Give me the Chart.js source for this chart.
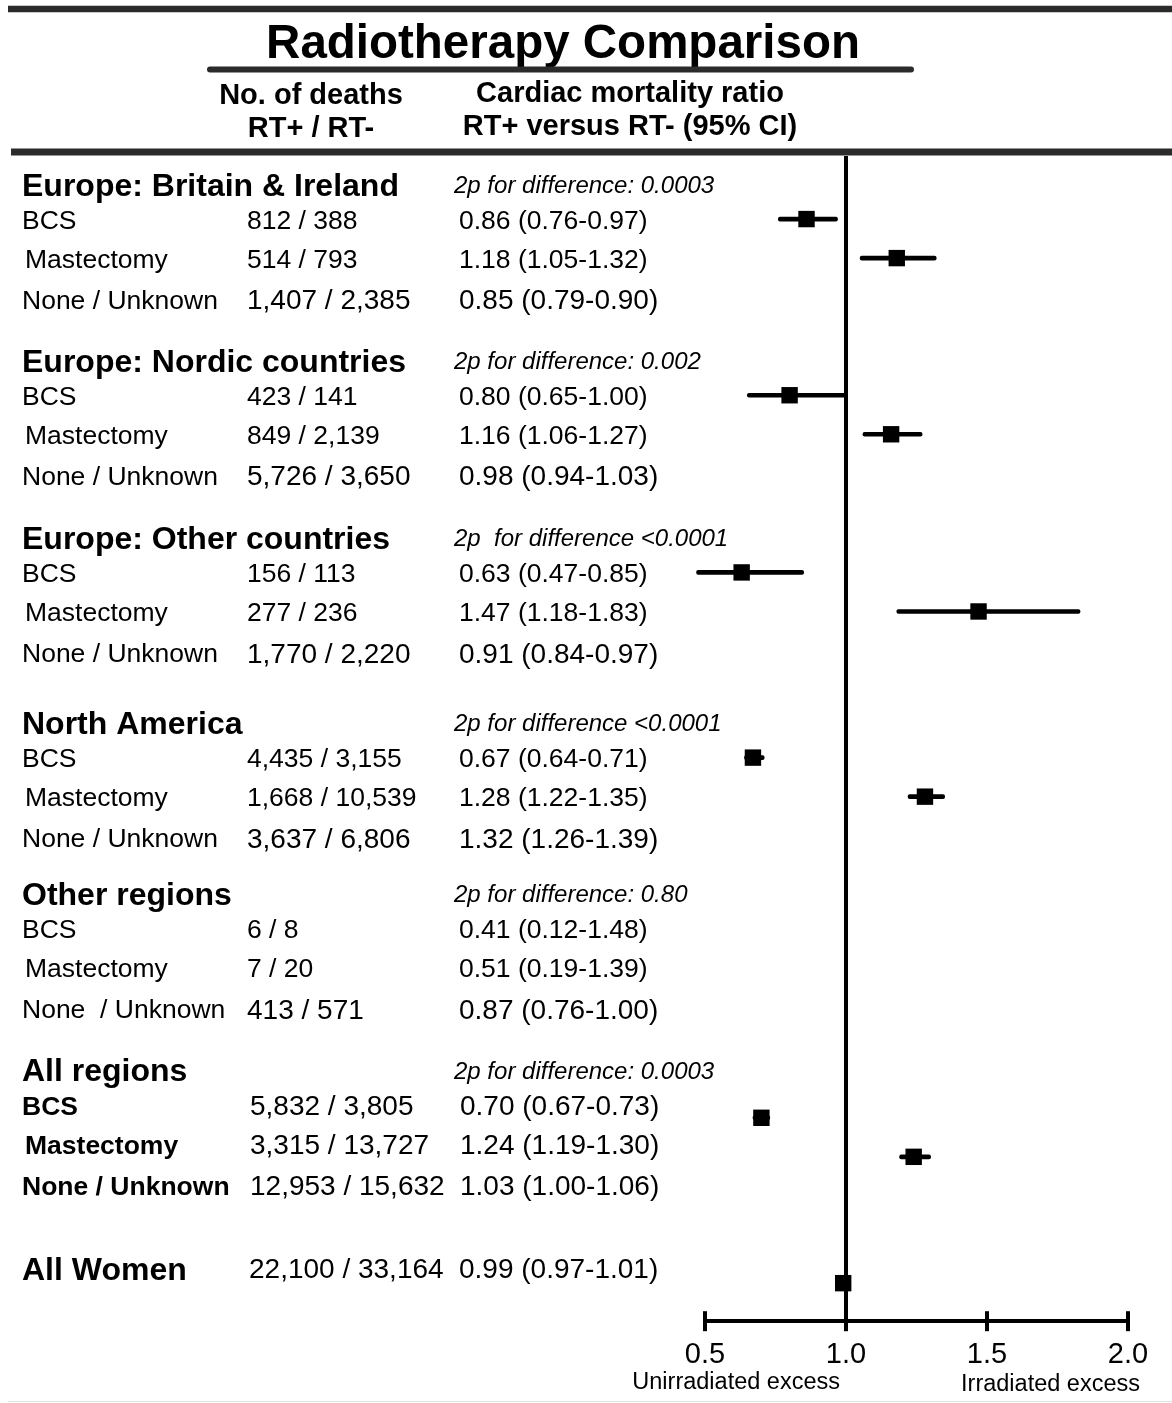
<!DOCTYPE html>
<html>
<head>
<meta charset="utf-8">
<title>Radiotherapy Comparison</title>
<script src="https://cdn.jsdelivr.net/npm/chart.js@4/dist/chart.umd.min.js"></script>
<style>
  html, body { margin: 0; padding: 0; background: #fff; overflow: hidden; }
  canvas { display: block; }
</style>
</head>
<body>
<canvas id="forest" width="1172" height="1403"></canvas>
<script>
"use strict";

// Regions, with one row per type of breast surgery
const regionNames = [
  'Europe: Britain & Ireland',
  'Europe: Nordic countries',
  'Europe: Other countries',
  'North America',
  'Other regions',
  'All regions',
];
const heterogeneityText = [
  '2p for difference: 0.0003',
  '2p for difference: 0.002',
  '2p  for difference <0.0001',
  '2p for difference <0.0001',
  '2p for difference: 0.80',
  '2p for difference: 0.0003',
];
const surgeryTypes = ['BCS', 'Mastectomy', 'None / Unknown'];
const surgeryTypesOther = ['BCS', 'Mastectomy', 'None  / Unknown'];

// Cardiac deaths among irradiated (RT+) and unirradiated (RT-) women
const deathsRtPlus = [
  [812, 514, 1407],
  [423, 849, 5726],
  [156, 277, 1770],
  [4435, 1668, 3637],
  [6, 7, 413],
  [5832, 3315, 12953],
];
const deathsRtMinus = [
  [388, 793, 2385],
  [141, 2139, 3650],
  [113, 236, 2220],
  [3155, 10539, 6806],
  [8, 20, 571],
  [3805, 13727, 15632],
];

// Cardiac mortality ratio RT+ versus RT- with 95% CI
const mortalityRatio = [
  [0.86, 1.18, 0.85],
  [0.80, 1.16, 0.98],
  [0.63, 1.47, 0.91],
  [0.67, 1.28, 1.32],
  [0.41, 0.51, 0.87],
  [0.70, 1.24, 1.03],
];
const ciLow = [
  [0.76, 1.05, 0.79],
  [0.65, 1.06, 0.94],
  [0.47, 1.18, 0.84],
  [0.64, 1.22, 1.26],
  [0.12, 0.19, 0.76],
  [0.67, 1.19, 1.00],
];
const ciHigh = [
  [0.97, 1.32, 0.90],
  [1.00, 1.27, 1.03],
  [0.85, 1.83, 0.97],
  [0.71, 1.35, 1.39],
  [1.48, 1.39, 1.00],
  [0.73, 1.30, 1.06],
];
// rows that get a square and whiskers on the plot
const shownInPlot = [
  [true, true, false],
  [true, true, false],
  [true, true, false],
  [true, true, false],
  [false, false, false],
  [true, true, false],
];

const allWomenLabel = 'All Women';
const allWomenDeaths = [22100, 33164];
const allWomenRatio = 0.99;
const allWomenCi = [0.97, 1.01];

const axisTicks = [0.5, 1.0, 1.5, 2.0];

// vertical layout, in text lines from the top of the plot area
const groupTop = [0.7, 5.1, 9.525, 14.15, 18.425, 22.825];
const rowOffset = [0.875, 1.85, 2.875];
const markDrop = [0, 0, 0, 0, 0, 0.32];
const allWomenTop = 27.775;
const allWomenDrop = 0.375;
const plotLines = 29.1;

const FAMILY = '"Liberation Sans", Arial, Helvetica, sans-serif';
const fontOf = (size, weight = 'normal', style = 'normal') => `${style} ${weight} ${size}px ${FAMILY}`;

const fmtCount = (n) => n.toLocaleString('en-US');
const fmtRatio = (est, lo, hi) => `${est.toFixed(2)} (${lo.toFixed(2)}-${hi.toFixed(2)})`;

// text vertically centred on the cap height
const drawText = (ctx, str, x, yMid, size, opts = {}) => {
  ctx.font = fontOf(size, opts.weight, opts.style);
  ctx.textAlign = opts.align || 'left';
  ctx.textBaseline = 'alphabetic';
  ctx.fillStyle = opts.color || '#000';
  ctx.fillText(str, x, yMid + size * 0.36);
};

const drawRule = (ctx, x0, x1, y, width, cap = 'butt') => {
  ctx.save();
  ctx.strokeStyle = '#2b2b2b';
  ctx.lineWidth = width;
  ctx.lineCap = cap;
  ctx.beginPath();
  ctx.moveTo(x0, y);
  ctx.lineTo(x1, y);
  ctx.stroke();
  ctx.restore();
};

const ciBars = [];
const estimates = [];
regionNames.forEach((_, g) => {
  surgeryTypes.forEach((__, r) => {
    if (!shownInPlot[g][r]) {
      return;
    }
    const y = groupTop[g] + rowOffset[r] + markDrop[g];
    ciBars.push({ x: [ciLow[g][r], ciHigh[g][r]], y });
    estimates.push({ x: mortalityRatio[g][r], y });
  });
});
ciBars.push({ x: allWomenCi, y: allWomenTop + allWomenDrop });
estimates.push({ x: allWomenRatio, y: allWomenTop + allWomenDrop });

const tablePlugin = {
  id: 'forestTable',
  beforeDraw(chart) {
    const { ctx } = chart;
    ctx.save();
    ctx.fillStyle = '#fff';
    ctx.fillRect(0, 0, chart.width, chart.height);

    drawRule(ctx, 8, chart.width, 9, 6.5);
    drawText(ctx, 'Radiotherapy Comparison', 563, 41, 47.5, { weight: 'bold', align: 'center' });
    drawRule(ctx, 210, 911, 69.5, 6, 'round');

    drawText(ctx, 'No. of deaths', 311, 94, 29, { weight: 'bold', align: 'center' });
    drawText(ctx, 'RT+ / RT-', 311, 127, 29, { weight: 'bold', align: 'center' });
    drawText(ctx, 'Cardiac mortality ratio', 630, 92, 29, { weight: 'bold', align: 'center' });
    drawText(ctx, 'RT+ versus RT- (95% CI)', 630, 125, 29, { weight: 'bold', align: 'center' });
    drawRule(ctx, 11, chart.width, 152, 7);

    ctx.strokeStyle = '#e2e2e2';
    ctx.lineWidth = 1;
    ctx.beginPath();
    ctx.moveTo(8, 1401.5);
    ctx.lineTo(chart.width, 1401.5);
    ctx.stroke();
    ctx.restore();
  },
  afterDraw(chart) {
    const { ctx } = chart;
    const yScale = chart.scales.y;
    const xScale = chart.scales.x;
    const py = (v) => yScale.getPixelForValue(v);

    ctx.save();
    regionNames.forEach((name, g) => {
      const last = g === regionNames.length - 1;
      const labels = g === 4 ? surgeryTypesOther : surgeryTypes;
      drawText(ctx, name, 22, py(groupTop[g]), 32, { weight: 'bold' });
      drawText(ctx, heterogeneityText[g], 454, py(groupTop[g]), 24, { style: 'italic' });

      labels.forEach((label, r) => {
        const y = py(groupTop[g] + rowOffset[r]);
        // the last row of each block and the pooled block are set a little larger
        const size = last || r === 2 ? 28 : 26.5;
        drawText(ctx, label, r === 1 ? 25 : 22, y, 26.5, { weight: last ? 'bold' : 'normal' });
        drawText(ctx, `${fmtCount(deathsRtPlus[g][r])} / ${fmtCount(deathsRtMinus[g][r])}`, last ? 250 : 247, y, size);
        drawText(ctx, fmtRatio(mortalityRatio[g][r], ciLow[g][r], ciHigh[g][r]), last ? 460 : 459, y, size);
      });
    });

    const yAll = py(allWomenTop);
    drawText(ctx, allWomenLabel, 22, yAll, 32, { weight: 'bold' });
    drawText(ctx, `${fmtCount(allWomenDeaths[0])} / ${fmtCount(allWomenDeaths[1])}`, 249, yAll, 28);
    drawText(ctx, fmtRatio(allWomenRatio, allWomenCi[0], allWomenCi[1]), 459, yAll, 28);

    // tick marks cross the axis line
    const bottom = chart.chartArea.bottom;
    ctx.strokeStyle = '#000';
    ctx.lineWidth = 4;
    axisTicks.forEach((t) => {
      const x = Math.round(xScale.getPixelForValue(t));
      ctx.beginPath();
      ctx.moveTo(x, bottom - 10);
      ctx.lineTo(x, bottom);
      ctx.stroke();
    });

    drawText(ctx, 'Unirradiated excess', xScale.getPixelForValue(1.0) - 6, 1381, 23.5, { align: 'right' });
    drawText(ctx, 'Irradiated excess', xScale.getPixelForValue(2.0) + 12, 1383, 23.5, { align: 'right' });
    ctx.restore();
  },
};

new Chart(document.getElementById('forest'), {
  type: 'scatter',
  data: {
    datasets: [
      {
        type: 'scatter',
        data: estimates,
        pointStyle: 'rect',
        pointRadius: 11.6,
        pointHoverRadius: 11.6,
        backgroundColor: '#000',
        borderWidth: 0,
        clip: false,
      },
      {
        type: 'bar',
        indexAxis: 'y',
        data: ciBars,
        backgroundColor: '#000',
        barThickness: 4,
        borderRadius: 2,
        borderSkipped: false,
        clip: false,
      },
    ],
  },
  options: {
    responsive: false,
    animation: false,
    events: [],
    layout: {
      padding: { left: 705, right: 44, top: 156, bottom: 25 },
    },
    plugins: {
      legend: { display: false },
      tooltip: { enabled: false },
    },
    scales: {
      x: {
        type: 'linear',
        position: 'bottom',
        min: 0.5,
        max: 2.0,
        offset: false,
        beginAtZero: false,
        afterBuildTicks: (scale) => {
          scale.ticks = axisTicks.map((value) => ({ value }));
        },
        ticks: {
          color: '#000',
          padding: 6,
          maxRotation: 0,
          autoSkip: false,
          font: { family: FAMILY, size: 29 },
          callback: (value) => Number(value).toFixed(1),
        },
        grid: {
          offset: false,
          drawOnChartArea: true,
          color: (context) => (context.tick && context.tick.value === 1 ? '#000' : 'rgba(0,0,0,0)'),
          lineWidth: 4,
          drawTicks: true,
          tickLength: 10,
          tickColor: '#000',
          tickWidth: 4,
        },
        border: { display: true, color: '#000', width: 4 },
      },
      y: {
        type: 'linear',
        display: false,
        reverse: true,
        offset: false,
        grid: { offset: false },
        min: 0,
        max: plotLines,
      },
    },
  },
  plugins: [tablePlugin],
});
</script>
</body>
</html>
